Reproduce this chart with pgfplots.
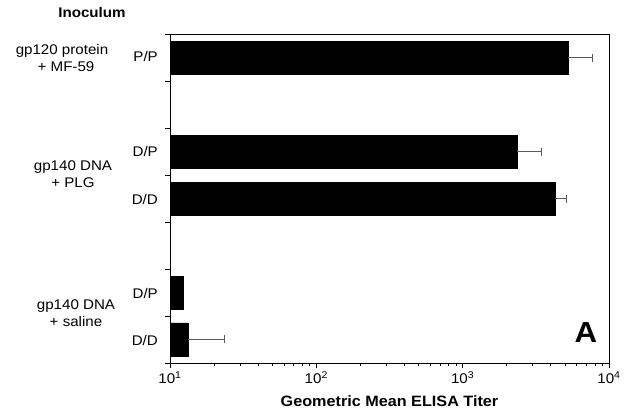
\documentclass[border=0pt]{standalone}
\usepackage{fontspec}
\setmainfont{Liberation Sans}[FakeStretch=1.08]
\usepackage{pgfplots}
\pgfplotsset{compat=1.18}

\begin{document}
\begin{tikzpicture}[x=1pt,y=1pt]
\path (0,0) rectangle (633,415);
\begin{axis}[
    at={(170pt,52pt)}, anchor=south west,
    scale only axis, width=439pt, height=329pt,
    xmode=log, log origin x=infty,
    xmin=10, xmax=10000,
    ymin=0, ymax=7,
    ytick={0,1,...,7}, yticklabels={},
    xtick={10,100,1000,10000},
    xticklabels={10\textsuperscript{1},10\textsuperscript{2},10\textsuperscript{3},10\textsuperscript{4}},
    xtick pos=bottom, ytick pos=left,
    tick align=outside,
    major tick length=5pt, minor tick length=3pt,
    axis line style={line width=0.8pt},
    every tick/.style={black, line width=0.6pt},
    tick label style={font=\fontsize{14}{15}\selectfont},
    xlabel={\bfseries Geometric Mean ELISA Titer},
    xlabel style={font=\fontsize{15}{16}\selectfont, yshift=-5pt},
    bar shift=0pt,
]
% bars with error bars
\addplot+[xbar, bar width=33pt, draw=black, fill=black, mark=none,
    error bars/.cd, x dir=plus, x explicit,
    error mark=|,
    error bar style={line width=0.6pt, black!65},
    error mark options={mark size=4pt, black!65, line width=0.6pt}]
coordinates {
    (5250,6.5) +- (2430,0)
    (2355,4.5) +- (1080,0)
    (4270,3.5) +- (860,0)
    (13.3,0.5) +- (10.1,0)
};
% bar without error bar
\addplot+[xbar, bar width=33pt, draw=black, fill=black, mark=none]
coordinates {(12.3,1.5)};
\end{axis}
\begin{scope}[every node/.style={font=\fontsize{14}{17}\selectfont, inner sep=0pt}]
\node[font=\fontsize{14}{17}\selectfont\bfseries] at (92,402) {Inoculum};
\node[align=center] at (62,357) {gp120 protein\\\hspace*{8pt}+ MF-59};
\node[align=center] at (73,241) {gp140 DNA\\+ PLG};
\node[align=center] at (76,102) {gp140 DNA\\+ saline};
\node[anchor=east] at (158,358) {P/P};
\node[anchor=east] at (158,263.5) {D/P};
\node[anchor=east] at (158,216) {D/D};
\node[anchor=east] at (158,122) {D/P};
\node[anchor=east] at (158,75) {D/D};
\node[font=\fontsize{29}{30}\selectfont\bfseries] at (586,82) {A};
\end{scope}
\end{tikzpicture}
\end{document}
